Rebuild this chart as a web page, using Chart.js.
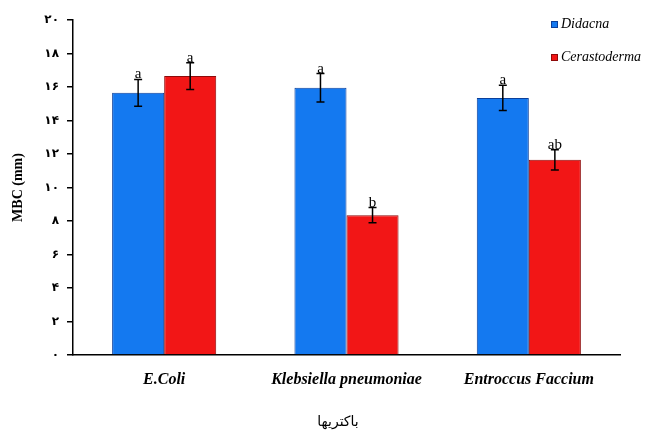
<!DOCTYPE html>
<html>
<head>
<meta charset="utf-8">
<script src="https://cdn.jsdelivr.net/npm/chart.js@4/dist/chart.umd.min.js"></script>
<style>
  body { margin: 0; background: #fff; }
  #wrap { width: 645px; height: 432px; }
</style>
</head>
<body>
<div id="wrap"><canvas id="mbcChart"></canvas></div>
<script>
const bacteria = ['E.Coli', 'Klebsiella pneumoniae', 'Entroccus Faccium'];
const didacna = [15.65, 15.95, 15.35];
const cerastoderma = [16.65, 8.35, 11.65];
const didacnaErr = [0.8, 0.85, 0.75];
const cerastodermaErr = [0.8, 0.45, 0.6];
const didacnaLetters = ['a', 'a', 'a'];
const cerastodermaLetters = ['a', 'b', 'ab'];
const yTickLabels = ['۰', '۲', '۴', '۶', '۸', '۱۰', '۱۲', '۱۴', '۱۶', '۱۸', '۲۰'];
const xTitle = 'باکتریها';

// error bars + significance letters on top of every bar
const errorBars = {
    id: 'errorBars',
    afterDatasetsDraw(chart) {
        const { ctx, scales: { y } } = chart;
        chart.data.datasets.forEach((ds, i) => {
            const meta = chart.getDatasetMeta(i);
            meta.data.forEach((bar, j) => {
                const v = ds.data[j], e = ds.errors[j];
                const top = y.getPixelForValue(v + e);
                const bot = y.getPixelForValue(v - e);
                ctx.save();
                ctx.strokeStyle = '#000';
                ctx.lineWidth = 1.5;
                ctx.beginPath();
                ctx.moveTo(bar.x, top); ctx.lineTo(bar.x, bot);
                ctx.moveTo(bar.x - 4, top); ctx.lineTo(bar.x + 4, top);
                ctx.moveTo(bar.x - 4, bot); ctx.lineTo(bar.x + 4, bot);
                ctx.stroke();
                ctx.fillStyle = '#000';
                ctx.font = '15px "Liberation Serif"';
                ctx.textAlign = 'center';
                ctx.textBaseline = 'alphabetic';
                ctx.fillText(ds.letters[j], bar.x, top - 1);
                ctx.restore();
            });
        });
    }
};

// legend in the top right corner + bottom axis title
const extras = {
    id: 'extras',
    afterDraw(chart) {
        const { ctx } = chart;
        ctx.save();
        chart.data.datasets.forEach((ds, i) => {
            const yy = 24 + i * 33;
            ctx.fillStyle = ds.backgroundColor;
            ctx.strokeStyle = ds.borderColor;
            ctx.lineWidth = 1;
            ctx.fillRect(551, yy - 3, 7, 7);
            ctx.strokeRect(551.5, yy - 2.5, 6, 6);
            ctx.fillStyle = '#000';
            ctx.font = 'italic 14px "Liberation Serif"';
            ctx.textAlign = 'left';
            ctx.textBaseline = 'middle';
            ctx.fillText(ds.label, 561, yy);
        });
        ctx.font = '14px "DejaVu Sans"';
        ctx.textAlign = 'center';
        ctx.textBaseline = 'middle';
        ctx.fillText(xTitle, 338, 422);
        ctx.restore();
    }
};

const ctx = document.getElementById('mbcChart').getContext('2d');
new Chart(ctx, {
    type: 'bar',
    data: {
        labels: bacteria,
        datasets: [
            {
                label: 'Didacna',
                data: didacna,
                errors: didacnaErr,
                letters: didacnaLetters,
                backgroundColor: '#1479F0',
                borderColor: '#0B3F9A',
                borderWidth: 1
            },
            {
                label: 'Cerastoderma',
                data: cerastoderma,
                errors: cerastodermaErr,
                letters: cerastodermaLetters,
                backgroundColor: '#F21616',
                borderColor: '#8E0A0A',
                borderWidth: 1
            }
        ]
    },
    options: {
        responsive: true,
        maintainAspectRatio: false,
        animation: false,
        layout: { padding: { left: 0, right: 25, top: 20, bottom: 0 } },
        datasets: { bar: { categoryPercentage: 0.571, barPercentage: 1 } },
        plugins: {
            legend: { display: false },
            tooltip: { enabled: false }
        },
        scales: {
            x: {
                afterFit(scale) { scale.height = 77; },
                grid: { display: false },
                border: { display: true, color: '#000', width: 1.5 },
                ticks: {
                    color: '#000',
                    padding: 7,
                    maxRotation: 0,
                    font: { family: 'Liberation Serif', size: 16, style: 'italic', weight: 'bold' }
                }
            },
            y: {
                min: 0,
                max: 20,
                afterFit(scale) { scale.width = 73; },
                grid: { display: true, drawOnChartArea: false, drawTicks: true, tickLength: 6, color: '#000', lineWidth: 1.5 },
                border: { display: true, color: '#000', width: 1.5 },
                ticks: {
                    stepSize: 2,
                    color: '#000',
                    padding: 8,
                    font: { family: 'DejaVu Sans', size: 12, weight: 'bold' },
                    callback: (v, i) => yTickLabels[i]
                },
                title: {
                    display: true,
                    text: 'MBC (mm)',
                    color: '#000',
                    padding: { top: 10, bottom: 0 },
                    font: { family: 'Liberation Serif', size: 14, weight: 'bold' }
                }
            }
        }
    },
    plugins: [errorBars, extras]
});
</script>
</body>
</html>
